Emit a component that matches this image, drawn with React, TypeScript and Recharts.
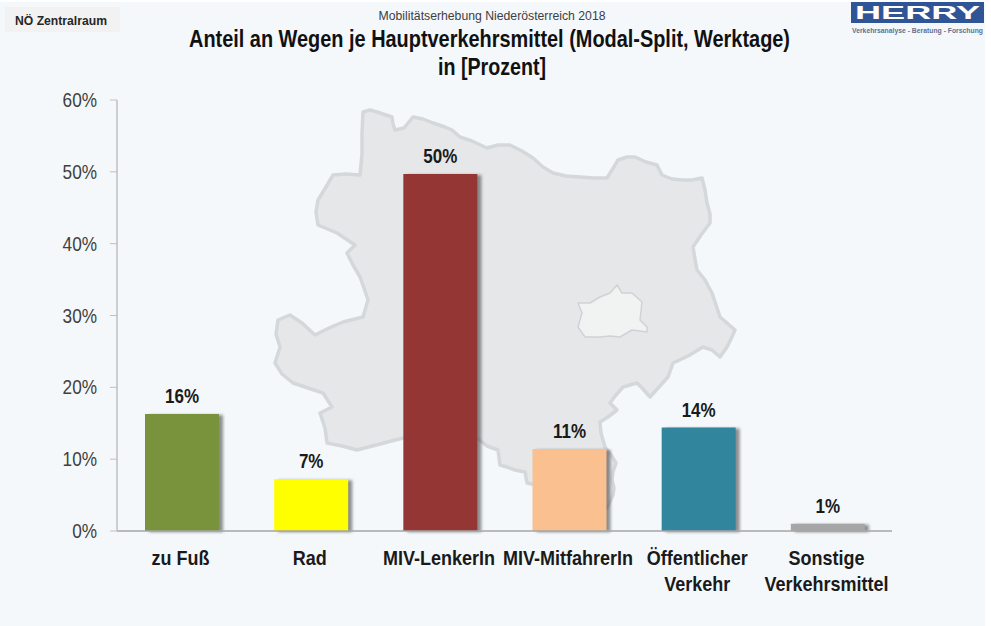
// App.tsx
// Modal-Split chart, NÖ Zentralraum

import { BarChart, Bar, XAxis, YAxis, Cell, LabelList } from "recharts";

const categories = [
  "zu Fuß",
  "Rad",
  "MIV-LenkerIn",
  "MIV-MitfahrerIn",
  "Öffentlicher\nVerkehr",
  "Sonstige\nVerkehrsmittel",
];
const shares = [16.3, 7.2, 49.7, 11.4, 14.4, 1.0];
const barColors = ["#78933c", "#ffff00", "#943634", "#fac090", "#31859c", "#a6a6a6"];
const yTicks = [0, 10, 20, 30, 40, 50, 60];

const chartData = categories.map((name, i) => ({ name, share: shares[i] }));

// background map of Lower Austria, page pixels
const stateOutline =
  "363,112 370,110 377,112 392,117 393,124 395,130 404,128 413,117 423,119 433,123 445,127 452,130 460,137 472,141 487,148 498,145 510,145 522,151 533,158 543,167 553,173 566,176 580,177 594,178 607,178 612,170 618,160 627,157 635,157 646,162 657,165 660,171 662,175 672,179 683,180 692,180 702,178 705,190 707,203 710,214 710,223 701,235 693,247 695,259 697,270 705,280 712,293 716,305 720,317 727,323 735,330 731,339 727,347 720,357 712,350 703,347 688,356 673,363 668,377 659,387 650,397 643,389 637,383 623,387 616,395 610,403 617,410 608,417 600,422 601,433 605,447 611,455 616,463 613,472 612,480 614,488 613,495 607,508 595,505 560,490 527,483 525,472 515,470 507,467 500,465 498,450 487,446 477,438 440,440 403,438 380,444 357,450 342,446 327,443 325,428 320,413 332,407 323,393 308,388 293,383 282,374 275,363 280,347 276,334 278,320 290,315 302,323 315,335 329,328 343,322 363,317 368,300 364,288 360,277 353,265 347,253 355,245 337,233 318,225 316,212 318,200 326,187 333,175 346,174 360,175 362,154 362,133";
const viennaOutline =
  "578,303 590,303 600,297 610,293 617,285 622,293 632,293 642,302 640,320 647,327 647,332 632,330 620,337 610,336 600,337 585,337 578,327 582,313";

const LABEL_FONT = "'Liberation Sans', Arial, sans-serif";

// the original text is narrower than Liberation Sans, so squeeze it sideways
function CategoryTick({ x, y, payload }: any) {
  const lines = String(payload.value).split("\n");
  return (
    <text
      transform={`translate(${x - 1},${y}) scale(0.9,1)`}
      textAnchor="middle"
      fontFamily={LABEL_FONT}
      fontSize={20}
      fontWeight="bold"
      fill="#1a1a1a"
    >
      {lines.map((line, i) => (
        <tspan key={line} x={0} y={i === 0 ? 26 : 52}>
          {line}
        </tspan>
      ))}
    </text>
  );
}

function PercentTick({ x, y, payload }: any) {
  return (
    <text
      transform={`translate(${x},${y + 7}) scale(0.82,1)`}
      textAnchor="end"
      fontFamily={LABEL_FONT}
      fontSize={21}
      fill="#404040"
    >
      {`${payload.value}%`}
    </text>
  );
}

function ValueLabel({ x, y, width, value }: any) {
  return (
    <text
      transform={`translate(${x + width / 2},${y - 11}) scale(0.85,1)`}
      textAnchor="middle"
      fontFamily={LABEL_FONT}
      fontSize={20}
      fontWeight="bold"
      fill="#1a1a1a"
    >
      {`${Math.round(value)}%`}
    </text>
  );
}

export default function App() {
  return (
    <div
      style={{
        position: "absolute",
        left: 0,
        top: 0,
        width: 991,
        height: 626,
        background: "#ffffff",
        overflow: "hidden",
      }}
    >
      {/* panel, label box and map sit behind the chart */}
      <svg width={991} height={626} style={{ position: "absolute", left: 0, top: 0 }}>
        <rect x={0} y={2} width={985} height={624} fill="#f4f8fb" />
        <rect x={5} y={7} width={115} height={25} fill="#f2f2f2" />
        <polygon points={stateOutline} fill="#e5e7e9" stroke="#d5d8da" strokeWidth={3.5} strokeLinejoin="round" />
        <polygon points={viennaOutline} fill="#f1f2f2" stroke="#d0d3d5" strokeWidth={1.5} strokeLinejoin="round" />
      </svg>

      <div style={{ position: "absolute", left: 0, top: 0 }}>
        <BarChart
          width={991}
          height={626}
          data={chartData}
          margin={{ top: 100, right: 99, left: 57, bottom: 35 }}
        >
          <XAxis
            dataKey="name"
            interval={0}
            height={60}
            tick={<CategoryTick />}
            tickLine={false}
            axisLine={{ stroke: "#a6a6a6", strokeWidth: 1.5 }}
          />
          <YAxis
            width={60}
            domain={[0, 60]}
            ticks={yTicks}
            interval={0}
            tickSize={7}
            tickMargin={13}
            tick={<PercentTick />}
            tickLine={{ stroke: "#bfbfbf" }}
            axisLine={{ stroke: "#bfbfbf", strokeWidth: 1.5 }}
          />
          <Bar dataKey="share" barSize={74} isAnimationActive={false}>
            {chartData.map((d, i) => (
              <Cell
                key={d.name}
                fill={barColors[i]}
                style={{ filter: "drop-shadow(4px 1px 1.5px rgba(70,70,70,0.6))" }}
              />
            ))}
            <LabelList dataKey="share" content={<ValueLabel />} />
          </Bar>
        </BarChart>
      </div>

      {/* header texts and logo */}
      <svg width={991} height={626} style={{ position: "absolute", left: 0, top: 0, pointerEvents: "none" }}>
        <text x={15} y={25} fontFamily={LABEL_FONT} fontSize={12.5} fontWeight="bold" fill="#262626" textLength={92} lengthAdjust="spacingAndGlyphs">
          NÖ Zentralraum
        </text>
        <text x={492} y={20} textAnchor="middle" fontFamily={LABEL_FONT} fontSize={13} fill="#404040" textLength={227} lengthAdjust="spacingAndGlyphs">
          Mobilitätserhebung Niederösterreich 2018
        </text>
        {/* 21px stretched upright, so the text box keeps the title's real width */}
        <text transform="translate(489.5,47) scale(1,1.14)" textAnchor="middle" fontFamily={LABEL_FONT} fontSize={21} fontWeight="bold" fill="#111111" textLength={601} lengthAdjust="spacingAndGlyphs">
          Anteil an Wegen je Hauptverkehrsmittel (Modal-Split, Werktage)
        </text>
        <text transform="translate(492,75) scale(1,1.14)" textAnchor="middle" fontFamily={LABEL_FONT} fontSize={21} fontWeight="bold" fill="#111111" textLength={108} lengthAdjust="spacingAndGlyphs">
          in [Prozent]
        </text>
        <rect x={851} y={2} width={133} height={21} fill="#2f5597" />
        <text x={855} y={19} fontFamily={LABEL_FONT} fontSize={19} fontWeight="bold" fill="#ffffff" textLength={125} lengthAdjust="spacingAndGlyphs">
          HERRY
        </text>
        <text x={852} y={33} fontFamily={LABEL_FONT} fontSize={6.5} fontWeight="bold" fill="#5f7191" textLength={131} lengthAdjust="spacingAndGlyphs">
          Verkehrsanalyse - Beratung - Forschung
        </text>
      </svg>
    </div>
  );
}
